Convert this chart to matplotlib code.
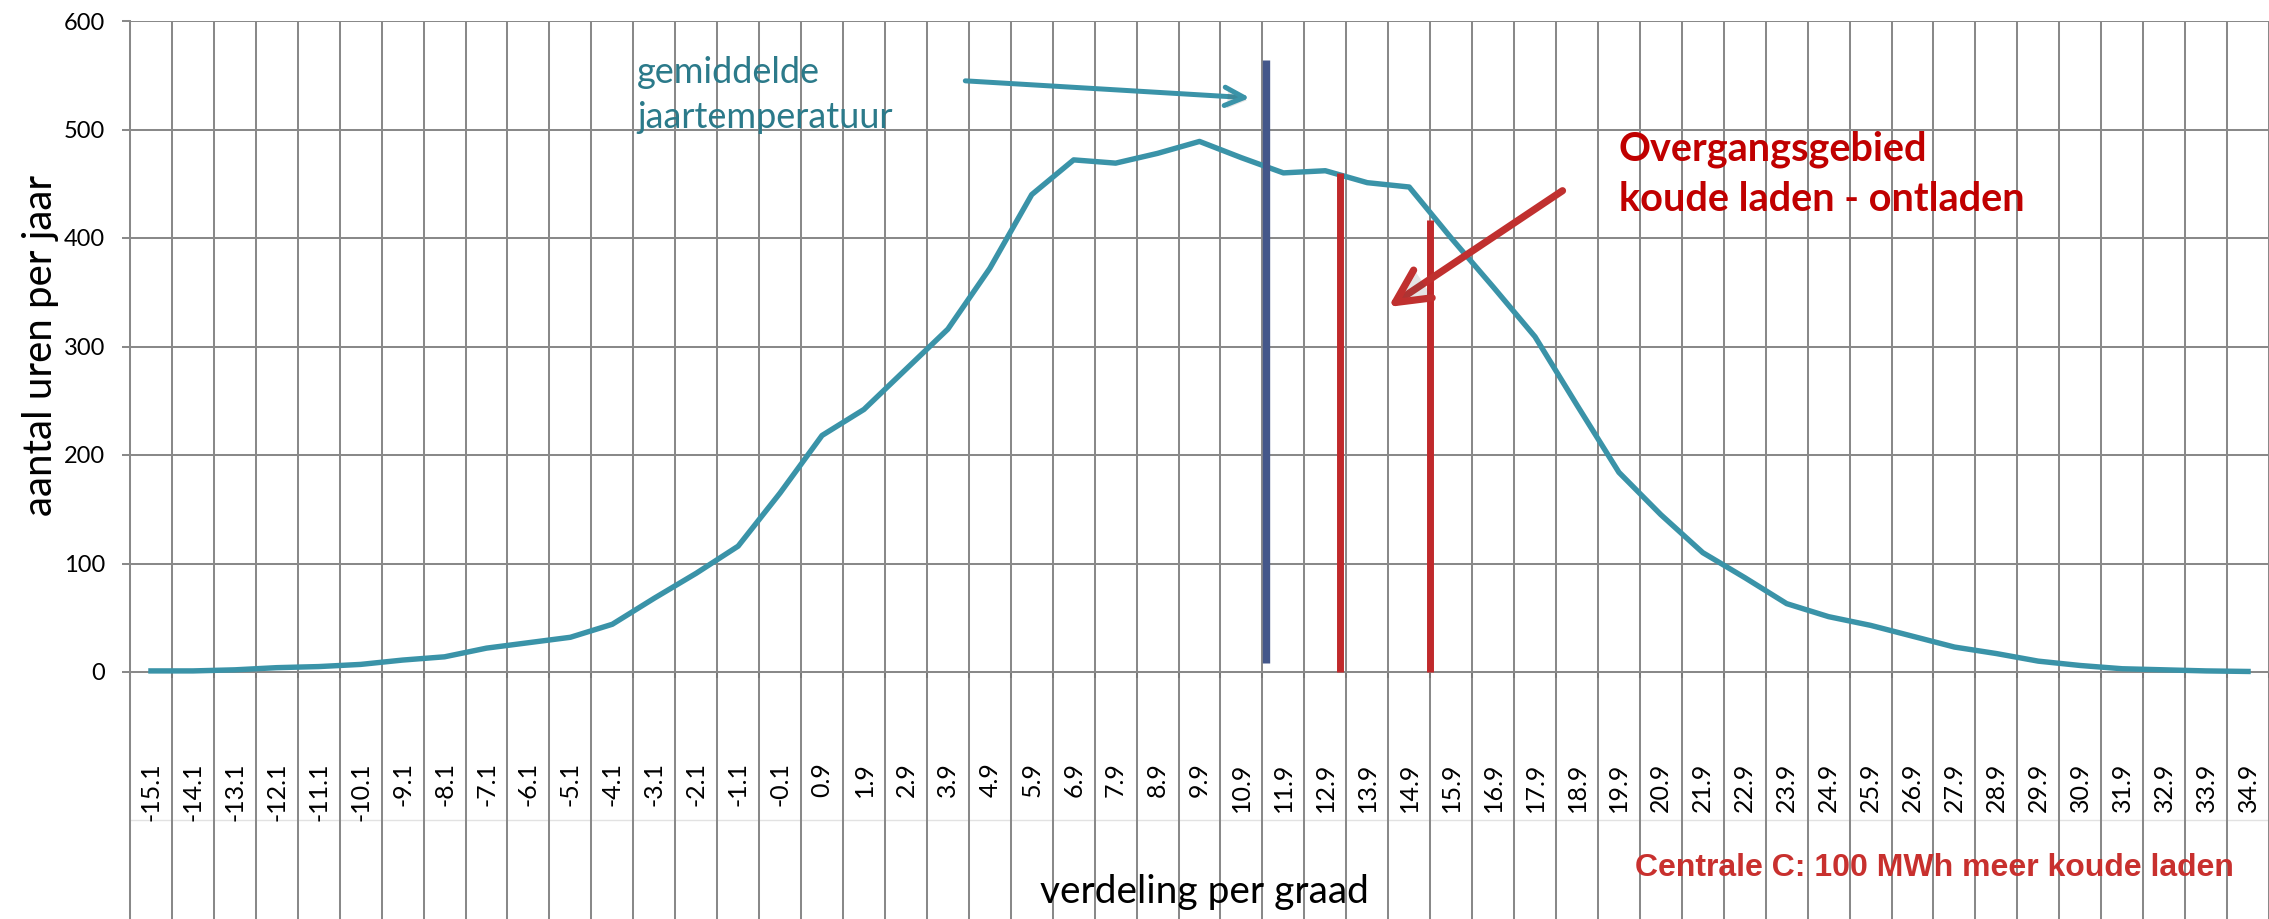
import matplotlib
matplotlib.use("Agg")
import matplotlib.pyplot as plt
import matplotlib.patheffects as pe
from matplotlib.patches import FancyArrowPatch

# temperatuurklassen (graden C) en aantal uren per jaar per klasse
graden = [-15.1, -14.1, -13.1, -12.1, -11.1, -10.1, -9.1, -8.1, -7.1, -6.1,
          -5.1, -4.1, -3.1, -2.1, -1.1, -0.1, 0.9, 1.9, 2.9, 3.9,
          4.9, 5.9, 6.9, 7.9, 8.9, 9.9, 10.9, 11.9, 12.9, 13.9,
          14.9, 15.9, 16.9, 17.9, 18.9, 19.9, 20.9, 21.9, 22.9, 23.9,
          24.9, 25.9, 26.9, 27.9, 28.9, 29.9, 30.9, 31.9, 32.9, 33.9, 34.9]
uren = [1, 1, 2, 4, 5, 7, 11, 14, 22, 27,
        32, 44, 68, 91, 116, 165, 218, 242, 279, 316,
        372, 440, 472, 469, 478, 489, 474, 460, 462, 451,
        447, 400, 355, 309, 246, 184, 145, 110, 87, 63,
        51, 43, 33, 23, 17, 10, 6, 3, 2, 1, 0.5]

# gemiddelde jaartemperatuur en grenzen overgangsgebied
gem_temp = 11.48
gem_lijn = (8, 564)
overgang = [13.25, 15.39]
overgang_top = [460, 417]

W, H = 2269, 919
fig = plt.figure(figsize=(W / 100, H / 100), dpi=100)
ax = fig.add_axes([130 / W, 0, (W - 130) / W, (H - 21) / H])

grijs = "#898989"
teal = "#3a93a8"
ax.set_xlim(graden[0] - 0.5, graden[0] - 0.5 + (W - 130) / 42.18)
ax.set_ylim(-(H - 672) / 1.085, 600)

for s in ["top", "right", "bottom"]:
    ax.spines[s].set_visible(False)
ax.spines["left"].set_color(grijs)
ax.spines["left"].set_linewidth(1.45)
ax.spines["bottom"].set_position(("data", 0))

ax.set_yticks(range(0, 601, 100))
ax.set_xticks(graden)
ax.set_xticklabels([f"{g:.1f}" for g in graden], rotation=90,
                   fontsize=18, family="Lato")
ax.set_xticks([g - 0.5 for g in graden] + [graden[-1] + 0.5], minor=True)
ax.tick_params(axis="x", which="major", length=0, pad=65)
ax.tick_params(axis="x", which="minor", length=4.5, width=1.45, color="#7a7a7a")
ax.tick_params(axis="y", length=5.8, width=1.45, color=grijs, pad=12,
               labelsize=17)
for lab in ax.get_yticklabels():
    lab.set_family("Lato")

ax.grid(axis="y", color=grijs, lw=1.45)
ax.grid(axis="x", which="minor", color=grijs, lw=1.45)
ax.set_axisbelow(True)
ax.axhline(-(820 - 672) / 1.085, color="#e2e2e2", lw=1, zorder=0)

ax.plot(graden, uren, color=teal, lw=3.9, solid_joinstyle="round", zorder=3)

ax.vlines(gem_temp, gem_lijn[0], gem_lijn[1], color="#44578a", lw=5.3,
          zorder=4)
ax.vlines(overgang, [0, 0], overgang_top, color="#c0292b", lw=5.0,
          zorder=4)

pijl_schaduw = [pe.withSimplePatchShadow(offset=(2, -2), alpha=0.15)]
ax.add_patch(FancyArrowPatch((4.25, 545), (11.17, 529),
                             arrowstyle="->,head_length=0.7,head_width=0.33",
                             mutation_scale=20, lw=3.6, color=teal,
                             capstyle="round", zorder=5,
                             path_effects=pijl_schaduw))
ax.add_patch(FancyArrowPatch((18.61, 445), (14.35, 335),
                             arrowstyle="->,head_length=1.2,head_width=0.6",
                             mutation_scale=20, lw=5.2, color="#c0302f",
                             capstyle="round", zorder=5,
                             path_effects=pijl_schaduw))

fig.text(41 / W, 1 - 345 / H, "aantal uren per jaar", rotation=90,
         ha="center", va="center", fontsize=29, family="Lato")
fig.text(1204 / W, 1 - 903 / H, "verdeling per graad", ha="center",
         va="baseline", fontsize=28, family="Lato")

fig.text(637 / W, 1 - 83 / H, "gemiddelde", ha="left", va="baseline",
         fontsize=26, family="Lato", color="#2b7a8a")
fig.text(637 / W, 1 - 128 / H, "jaartemperatuur", ha="left", va="baseline",
         fontsize=26, family="Lato", color="#2b7a8a")

fig.text(1619 / W, 1 - 160 / H, "Overgangsgebied", ha="left", va="baseline",
         fontsize=28.5, family="Lato", weight="bold", color="#c00000")
fig.text(1619 / W, 1 - 211 / H, "koude laden - ontladen", ha="left",
         va="baseline", fontsize=28.5, family="Lato", weight="bold",
         color="#c00000")

fig.text(1635 / W, 1 - 868 / H, "Centrale C: 100 MWh meer koude laden",
         ha="left", va="center", fontsize=23, family="Liberation Sans",
         weight="bold", color="#c8302e")

fig.savefig("out.png", dpi=100)
